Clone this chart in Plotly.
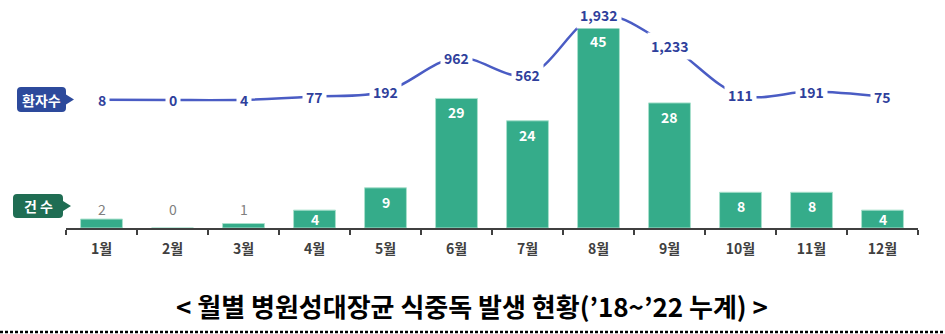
import plotly.graph_objects as go

# ---------------- data ----------------
months = ["1월", "2월", "3월", "4월", "5월", "6월", "7월", "8월", "9월", "10월", "11월", "12월"]
cases = [2, 0, 1, 4, 9, 29, 24, 45, 28, 8, 8, 4]            # 건수 (bars)
patients = [8, 0, 4, 77, 192, 962, 562, 1932, 1233, 111, 191, 75]  # 환자수 (line)
title_text = "< 월별 병원성대장균 식중독 발생 현황(’18~’22 누계) >"

# ---------------- geometry / style ----------------
W, H = 945, 334
X0, X1 = 66, 918          # plot area in px
AXIS_Y = 228              # axis line y in px
dom_y0 = (H - AXIS_Y) / H
BAR_MAX = 51.04
LINE_RANGE = [-2909, 2273]
px_per_case = AXIS_Y / BAR_MAX

FONT = "Noto Sans CJK KR"
BAR_COLOR = "#35AC8A"
LINE_COLOR = "#4A5CC4"
LABEL_BLUE = "#2F3F9C"

fig = go.Figure()
fig.add_bar(x=months, y=cases, width=0.59,
            marker=dict(color=BAR_COLOR, line=dict(color="#A8E0CC", width=1)),
            hoverinfo="skip")
fig.add_scatter(x=months, y=patients, yaxis="y2", mode="lines",
                line=dict(color=LINE_COLOR, width=2.5, shape="spline", smoothing=1.0),
                hoverinfo="skip")

annotations = []
# line labels
for m, v in zip(months, patients):
    annotations.append(dict(x=m, y=v, xref="x", yref="y2", text=f"{v:,}", showarrow=False,
                            font=dict(family=FONT, size=14, color=LABEL_BLUE, weight="bold"),
                            bgcolor="white", borderpad=3, xanchor="center", yanchor="middle"))
# bar labels
for m, v in zip(months, cases):
    if v < 3:
        annotations.append(dict(x=m, y=max(v, 2), xref="x", yref="y", text=str(v), showarrow=False,
                                font=dict(family=FONT, size=14, color="#7F7F7F"),
                                xanchor="center", yanchor="bottom", yshift=-2))
    else:
        top_px = v * px_per_case
        shift = -min(14, top_px / 2)
        annotations.append(dict(x=m, y=v, xref="x", yref="y", text=str(v), showarrow=False,
                                font=dict(family=FONT, size=14, color="white", weight="bold"),
                                xanchor="center", yanchor="middle", yshift=shift))


def px(x):
    return x / W


def py(y):
    return (H - y) / H


def callout(x0, x1, y0, y1, tip, r=4):
    ym = (y0 + y1) / 2
    p = [f"M {px(x0 + r)},{py(y0)}",
         f"L {px(x1 - r)},{py(y0)}",
         f"Q {px(x1)},{py(y0)} {px(x1)},{py(y0 + r)}",
         f"L {px(x1)},{py(ym - 5)}",
         f"L {px(tip)},{py(ym)}",
         f"L {px(x1)},{py(ym + 5)}",
         f"L {px(x1)},{py(y1 - r)}",
         f"Q {px(x1)},{py(y1)} {px(x1 - r)},{py(y1)}",
         f"L {px(x0 + r)},{py(y1)}",
         f"Q {px(x0)},{py(y1)} {px(x0)},{py(y1 - r)}",
         f"L {px(x0)},{py(y0 + r)}",
         f"Q {px(x0)},{py(y0)} {px(x0 + r)},{py(y0)}", "Z"]
    return " ".join(p)


shapes = [
    dict(type="path", xref="paper", yref="paper", path=callout(17, 66, 87, 112, 74),
         fillcolor="#2D4A9C", line=dict(width=0), layer="above"),
    dict(type="path", xref="paper", yref="paper", path=callout(13, 63, 194, 218, 71),
         fillcolor="#1F6D53", line=dict(width=0), layer="above"),
    dict(type="line", xref="paper", yref="paper", x0=0, x1=1, y0=py(332), y1=py(332),
         line=dict(color="black", width=2.5, dash="3px,2px")),
]
annotations += [
    dict(x=px(41.5), y=py(99.5), xref="paper", yref="paper", text="환자수", showarrow=False,
         xanchor="center", yanchor="middle",
         font=dict(family=FONT, size=14, color="white", weight="bold")),
    dict(x=px(38), y=py(206), xref="paper", yref="paper", text="건 수", showarrow=False,
         xanchor="center", yanchor="middle",
         font=dict(family=FONT, size=14, color="white", weight="bold")),
    dict(x=px(472), y=py(305), xref="paper", yref="paper", text=title_text, showarrow=False,
         xanchor="center", yanchor="middle",
         font=dict(family=FONT, size=26, color="black", weight="bold")),
]

fig.update_layout(
    width=W, height=H, margin=dict(l=0, r=0, t=0, b=0),
    paper_bgcolor="white", plot_bgcolor="rgba(0,0,0,0)", showlegend=False,
    xaxis=dict(domain=[X0 / W, X1 / W], anchor="y", showline=True, linecolor="#404040",
               linewidth=2, ticks="outside", tickson="boundaries", ticklen=5,
               tickcolor="#404040", tickwidth=2, showgrid=False, ticklabelstandoff=7,
               tickfont=dict(family=FONT, size=14, color="#404040", weight="bold")),
    yaxis=dict(domain=[dom_y0, 1], range=[0, BAR_MAX], visible=False, showgrid=False),
    yaxis2=dict(domain=[dom_y0, 1], range=LINE_RANGE, overlaying="y", visible=False,
                showgrid=False),
    shapes=shapes, annotations=annotations, bargap=0.41,
)

fig.write_html("out.html")
